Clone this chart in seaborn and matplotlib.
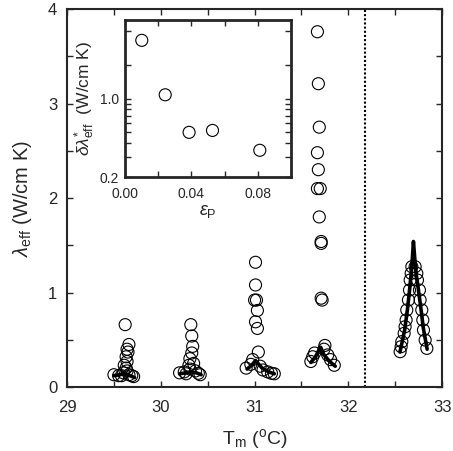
import numpy as np
import pandas as pd
import matplotlib
matplotlib.use("Agg")
import matplotlib.pyplot as plt
from matplotlib.ticker import MultipleLocator, FixedLocator, NullFormatter, FixedFormatter
import seaborn as sns

# ---------------- data ----------------
# main panel: measured points (T_m in degC, lambda_eff in W/cm K)
c1_T = [29.62, 29.66, 29.64, 29.65, 29.63, 29.64, 29.61, 29.63, 29.64, 29.60, 29.50, 29.55, 29.58, 29.69, 29.71, 29.66]
c1_v = [0.66, 0.45, 0.40, 0.37, 0.32, 0.27, 0.23, 0.20, 0.17, 0.15, 0.13, 0.12, 0.12, 0.12, 0.11, 0.13]
c2_T = [30.32, 30.33, 30.34, 30.33, 30.31, 30.30, 30.35, 30.31, 30.20, 30.27, 30.40, 30.42, 30.25, 30.37]
c2_v = [0.66, 0.54, 0.43, 0.36, 0.30, 0.23, 0.25, 0.19, 0.15, 0.14, 0.145, 0.13, 0.16, 0.17]
c3_T = [31.01, 31.01, 31.00, 31.02, 31.03, 31.01, 31.03, 31.04, 30.98, 30.91, 31.09, 31.18, 30.96, 31.06, 31.14, 31.21]
c3_v = [1.32, 1.08, 0.92, 0.92, 0.81, 0.69, 0.62, 0.37, 0.29, 0.20, 0.18, 0.145, 0.24, 0.22, 0.16, 0.14]
c4_T = [31.67, 31.68, 31.69, 31.67, 31.68, 31.67, 31.70, 31.69, 31.71, 31.71, 31.71, 31.72, 31.75, 31.74, 31.62, 31.60, 31.81, 31.85, 31.64, 31.78]
c4_v = [3.76, 3.21, 2.75, 2.48, 2.30, 2.10, 2.10, 1.80, 1.54, 1.52, 0.94, 0.92, 0.44, 0.40, 0.32, 0.27, 0.29, 0.23, 0.36, 0.34]
c5_T = [32.552, 32.563, 32.570, 32.595, 32.605, 32.616, 32.623, 32.641, 32.652, 32.659, 32.670, 32.677,
        32.712, 32.730, 32.737, 32.758, 32.765, 32.783, 32.794, 32.801, 32.819, 32.837]
c5_v = [0.374, 0.427, 0.480, 0.568, 0.638, 0.709, 0.815, 0.921, 1.026, 1.132, 1.203, 1.273,
        1.273, 1.203, 1.132, 1.026, 0.921, 0.815, 0.709, 0.603, 0.497, 0.409]

# main panel: fitted curves
f1_T = [29.50, 29.56, 29.62, 29.67, 29.72]
f1_v = [0.12, 0.13, 0.14, 0.12, 0.10]
f2_T = [30.20, 30.27, 30.33, 30.38, 30.43]
f2_v = [0.14, 0.15, 0.16, 0.15, 0.13]
f3_T = [30.92, 30.97, 31.01, 31.08, 31.15, 31.21]
f3_v = [0.19, 0.23, 0.28, 0.20, 0.16, 0.14]
f4_T = [31.60, 31.65, 31.68, 31.705, 31.74, 31.80, 31.86]
f4_v = [0.26, 0.32, 0.38, 0.42, 0.34, 0.27, 0.22]
f5_T = [32.55, 32.57, 32.60, 32.63, 32.65, 32.67, 32.685, 32.694, 32.705, 32.72, 32.74, 32.77, 32.80, 32.84]
f5_v = [0.37, 0.46, 0.60, 0.82, 1.00, 1.20, 1.40, 1.54, 1.40, 1.22, 1.08, 0.86, 0.62, 0.40]

transition_T = 32.18

# inset
eps_P = [0.0101, 0.0242, 0.0386, 0.0527, 0.0812]
dlam = [3.3, 1.08, 0.50, 0.52, 0.346]

# ---------------- build tables ----------------
pts = pd.DataFrame({
    "T": c1_T + c2_T + c3_T + c4_T + c5_T,
    "v": c1_v + c2_v + c3_v + c4_v + c5_v,
})
fit_list = [(f1_T, f1_v), (f2_T, f2_v), (f3_T, f3_v), (f4_T, f4_v), (f5_T, f5_v)]
fits = pd.concat([pd.DataFrame({"T": t, "v": v, "g": i, "o": range(len(t))})
                  for i, (t, v) in enumerate(fit_list)], ignore_index=True)
ins = pd.DataFrame({"eps": eps_P, "d": dlam})

# ---------------- style ----------------
sns.set_style("ticks")
plt.rcParams["font.family"] = ["Liberation Sans", "DejaVu Sans"]
plt.rcParams["mathtext.fontset"] = "custom"
plt.rcParams["mathtext.rm"] = "Liberation Sans"
plt.rcParams["mathtext.it"] = "Liberation Sans:italic"
plt.rcParams["mathtext.sf"] = "Liberation Sans"

fig = plt.figure(figsize=(4.53, 4.51), dpi=100)
ax = fig.add_axes([0.148, 0.1419, 0.828, 0.838])

sns.scatterplot(data=pts, x="T", y="v", ax=ax, marker="o", s=75,
                facecolor="none", edgecolor="black", linewidth=0.8, zorder=2)
sns.lineplot(data=fits, x="T", y="v", units="g", estimator=None, sort=False,
             ax=ax, color="black", linewidth=2.6, zorder=3)
ax.axvline(transition_T, color="black", linestyle=(0, (1, 1)), linewidth=1.5, zorder=1)

ax.set_xlim(29, 33)
ax.set_ylim(0, 4)
ax.xaxis.set_major_locator(MultipleLocator(1))
ax.xaxis.set_minor_locator(MultipleLocator(0.5))
ax.yaxis.set_major_locator(MultipleLocator(1))
ax.yaxis.set_minor_locator(MultipleLocator(0.5))
ax.tick_params(which="both", direction="in", top=True, right=True, width=1.0, labelsize=12)
ax.tick_params(which="both", length=4.5)
ax.tick_params(axis="x", pad=9)
ax.tick_params(axis="y", pad=7)
for s in ax.spines.values():
    s.set_linewidth(1.5)
ax.set_xlabel(r"T$_{\rm m}$ ($^{\rm o}$C)", fontsize=14, labelpad=9)
ax.set_ylabel(r"$\lambda_{\rm eff}$ (W/cm K)", fontsize=14.5, labelpad=10)

# inset
axi = fig.add_axes([0.276, 0.6075, 0.3664, 0.348])
sns.scatterplot(data=ins, x="eps", y="d", ax=axi, marker="o", s=75,
                facecolor="none", edgecolor="black", linewidth=0.8)
axi.set_yscale("log")
axi.set_xlim(0, 0.1)
axi.set_ylim(0.2, 5)
axi.xaxis.set_major_locator(FixedLocator([0.0, 0.04, 0.08]))
axi.xaxis.set_major_formatter(FixedFormatter(["0.00", "0.04", "0.08"]))
axi.xaxis.set_minor_locator(FixedLocator([0.02, 0.06]))
axi.yaxis.set_major_locator(FixedLocator([0.2, 1.0]))
axi.yaxis.set_major_formatter(FixedFormatter(["0.2", "1.0"]))
axi.yaxis.set_minor_locator(FixedLocator([0.3, 0.4, 0.5, 0.6, 0.7, 0.8, 0.9, 2, 4]))
axi.yaxis.set_minor_formatter(NullFormatter())
axi.tick_params(which="both", direction="in", top=True, right=True, width=1.0, labelsize=10, length=4)
axi.tick_params(axis="x", pad=7.5)
axi.tick_params(axis="y", pad=4.5)
for s in axi.spines.values():
    s.set_linewidth(2.0)
axi.set_xlabel(r"$\varepsilon_{\rm P}$", fontsize=13, labelpad=1)
axi.set_ylabel(r"$\delta\lambda^{*}_{\rm eff}$  (W/cm K)", fontsize=12.5, labelpad=2)

fig.savefig("out.png", dpi=100)
